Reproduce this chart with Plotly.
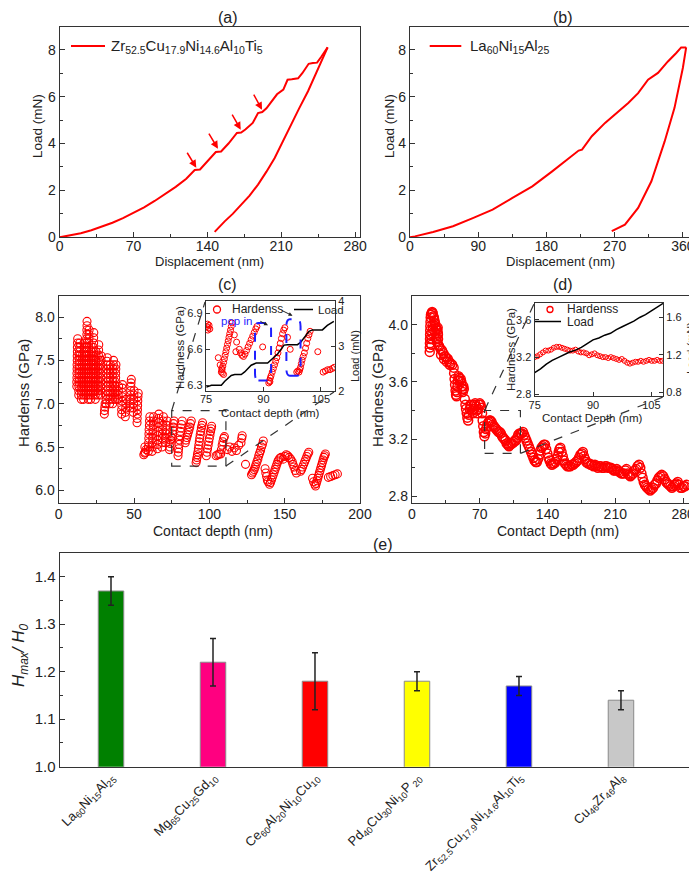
import plotly.graph_objects as go

# ---------------- data ----------------
# (a) Zr52.5Cu17.9Ni14.6Al10Ti5 load-displacement
a_load_disp = [0, 10, 20, 30, 40, 50, 60, 70, 80, 90, 100, 110, 120, 128, 133, 140, 148, 153, 160, 168, 172,
               176, 183, 188, 192, 196, 200, 206, 212, 216, 220, 226, 230, 236, 240, 244, 248, 252, 254]
a_load_val = [0, 0.07, 0.17, 0.30, 0.45, 0.62, 0.82, 1.05, 1.28, 1.55, 1.85, 2.15, 2.50, 2.87, 2.89, 3.25, 3.64,
              3.66, 4.00, 4.45, 4.47, 4.60, 4.88, 5.30, 5.34, 5.50, 5.75, 6.10, 6.30, 6.72, 6.74, 6.78, 7.00,
              7.40, 7.43, 7.45, 7.70, 8.00, 8.10]
a_unload_disp = [254, 245, 235.4, 227, 219.5, 211, 203.8, 196, 188, 180, 172.1, 164, 156.4, 150, 146.9]
a_unload_val = [8.10, 7.20, 6.23, 5.50, 4.80, 4.05, 3.38, 2.80, 2.25, 1.78, 1.39, 1.00, 0.68, 0.40, 0.23]
a_arrow_tail = [(120, 3.67), (140.6, 4.49), (162.7, 5.30), (183.2, 6.15)]
a_arrow_head = [(129.5, 2.97), (150, 3.78), (171.6, 4.59), (191.8, 5.44)]

# (b) La60Ni15Al25 load-displacement
b_load_disp = [0, 6.5, 30.5, 56.7, 82.9, 109, 135.2, 161.4, 187.6, 205.1, 222.5, 227, 239.9, 257.4, 274.9,
               288, 301, 314.1, 327.2, 340.3, 351.3, 357.8, 364.4]
b_load_val = [0, 0.04, 0.23, 0.47, 0.82, 1.18, 1.68, 2.17, 2.81, 3.24, 3.70, 3.74, 4.31, 4.88, 5.37, 5.73,
              6.15, 6.72, 7.01, 7.50, 7.86, 8.10, 8.10]
b_unload_disp = [364.4, 360, 349, 336, 318.5, 301, 283.6, 266.2]
b_unload_val = [8.10, 7.22, 5.52, 4.09, 2.39, 1.25, 0.54, 0.26]

# (c) hardness vs contact depth, Zr-based BMG (clusters of serrations)
c_col_depth = [
    [12.0, 12.0, 12.1, 12.1, 12.2, 12.2, 12.3, 12.3, 12.4, 12.4, 12.5, 12.6],
    [13.3, 13.3, 13.4, 13.4, 13.5, 13.5, 13.6, 13.6, 13.7, 13.7, 13.8, 13.9, 14.0],
    [15.0, 15.0, 15.1, 15.1, 15.2, 15.2, 15.3, 15.3, 15.4, 15.4, 15.5],
    [16.5, 16.5, 16.6, 16.6, 16.7, 16.7, 16.8, 16.8, 16.9, 16.9, 17.0, 17.0, 17.1, 17.2],
    [18.2, 18.2, 18.2, 18.3, 18.3, 18.3, 18.4, 18.4, 18.4, 18.5, 18.5, 18.5, 18.6, 18.6, 18.7, 18.7, 18.8, 18.8],
    [19.6, 19.6, 19.6, 19.7, 19.7, 19.7, 19.8, 19.8, 19.8, 19.9, 19.9, 19.9, 20.0, 20.0, 20.1, 20.1, 20.2],
    [21.2, 21.2, 21.3, 21.3, 21.4, 21.4, 21.5, 21.5, 21.6, 21.6, 21.7, 21.8],
    [22.7, 22.7, 22.8, 22.8, 22.8, 22.9, 22.9, 23.0, 23.0, 23.0, 23.1, 23.1, 23.2, 23.2, 23.3],
    [24.3, 24.3, 24.4, 24.4, 24.5, 24.5, 24.6, 24.6, 24.7, 24.7, 24.8, 24.8],
    [26.0, 26.0, 26.1, 26.1, 26.2, 26.2, 26.3, 26.3, 26.4, 26.4, 26.5, 26.6],
    [27.8, 27.8, 27.9, 27.9, 28.0, 28.0, 28.1, 28.1, 28.2, 28.3],
    [30.3, 30.4, 30.6, 30.8],
    [31.5, 31.5, 31.6, 31.6, 31.7, 31.7, 31.8, 31.8, 31.9, 32.0, 32.1, 32.3],
    [33.8, 33.8, 33.9, 33.9, 34.0, 34.0, 34.1, 34.2, 34.2, 34.3],
    [35.8, 35.8, 35.9, 35.9, 36.0, 36.0, 36.1, 36.1, 36.2, 36.3, 36.4],
    [37.5, 37.5, 37.6, 37.6, 37.7, 37.8, 37.8, 37.9, 38.0],
    [39.3, 39.5, 39.6, 39.8],
    [41.8, 41.8, 41.9, 42.0, 42.0, 42.1, 42.2, 42.3],
    [44.2, 44.3, 44.5, 44.6, 44.8],
    [47.5, 47.5, 47.6, 47.7, 47.8, 47.9, 48.0, 48.2],
    [49.5, 49.6, 49.7, 49.8, 49.9, 50.0],
    [52.0, 52.1, 52.2, 52.3, 52.4, 52.5, 52.6, 52.8],
    [56.5, 57.0, 57.5, 58.0, 57.2],
    [59.5, 59.6, 59.7, 59.8, 59.9, 60.0, 60.2, 60.3, 60.5],
    [62.0, 62.1, 62.2, 62.3, 62.4, 62.5, 62.7, 62.8, 63.0],
    [65.5, 65.6, 65.7, 65.8, 65.9, 66.0, 66.2, 66.3, 66.5],
    [68.5, 68.6, 68.7, 68.9, 69.0, 69.2, 69.3, 69.5],
    [71.0, 71.2, 71.4, 71.6, 71.8, 72.0],
    [73.5, 73.8, 74.0, 74.3, 74.5],
    [75.5, 75.6, 75.8, 76.0, 76.2, 76.5],
    [79.2, 79.4, 79.6, 79.9, 80.2, 80.5, 80.8, 81.1, 81.5, 82.0],
    [84.0, 84.5, 85.0, 85.5, 86.0, 86.5, 87.0, 87.5, 88.0],
    [91.2, 91.5, 91.8, 92.1, 92.4, 92.7, 93.0, 93.3, 93.6, 93.9, 94.3, 94.7, 95.1, 95.5],
    [98.0, 98.4, 98.8, 99.2, 99.6, 100.0, 100.4, 100.8, 101.2, 101.5],
    [104.5, 105.5, 106.5, 107.5, 108.0, 108.5, 109.0, 109.5, 110.0],
    [112, 113.5, 115, 116.5, 118, 119.5, 121, 121.5, 121.8],
    [124],
    [128.0, 128.6, 129.2, 129.8, 130.4, 131.0, 131.6, 132.2, 132.8, 133.4, 134.0, 134.6, 135.2, 135.8],
    [137.0, 137.5, 138.0, 138.5, 139.0],
    [140.0, 140.6, 141.2, 141.8, 142.4, 143.0, 143.6, 144.2, 144.8, 145.4, 146.0, 146.8, 147.6],
    [149, 150, 151, 152, 153, 154, 155],
    [155.5, 156.2, 157.0, 157.8],
    [160.5, 161.2, 161.9, 162.6, 163.3, 164.0, 164.7, 165.4, 166.0],
    [168.5, 169.2, 170.0],
    [170.5, 171.0, 171.5, 172.0, 172.5, 173.0, 173.5, 174.0, 174.5, 175.0, 175.5, 176.0, 176.5, 177.0],
    [179, 180.5, 182, 183.5, 185],
]
c_col_hard = [
    [7.20, 7.25, 7.30, 7.35, 7.40, 7.45, 7.50, 7.55, 7.60, 7.65, 7.70, 7.75],
    [7.10, 7.15, 7.20, 7.25, 7.30, 7.35, 7.40, 7.45, 7.50, 7.55, 7.60, 7.65, 7.70],
    [7.05, 7.10, 7.15, 7.20, 7.25, 7.30, 7.35, 7.40, 7.45, 7.50, 7.55],
    [7.05, 7.10, 7.15, 7.20, 7.25, 7.30, 7.35, 7.40, 7.45, 7.50, 7.55, 7.60, 7.65, 7.70],
    [7.10, 7.15, 7.20, 7.25, 7.30, 7.35, 7.40, 7.45, 7.50, 7.55, 7.60, 7.65, 7.70, 7.75, 7.80, 7.85, 7.90, 7.95],
    [7.05, 7.10, 7.15, 7.20, 7.25, 7.30, 7.35, 7.40, 7.45, 7.50, 7.55, 7.60, 7.65, 7.70, 7.75, 7.80, 7.85],
    [7.05, 7.10, 7.15, 7.20, 7.25, 7.30, 7.35, 7.40, 7.45, 7.50, 7.55, 7.60],
    [7.10, 7.15, 7.20, 7.25, 7.30, 7.35, 7.40, 7.45, 7.50, 7.55, 7.60, 7.65, 7.70, 7.76, 7.82],
    [7.05, 7.10, 7.15, 7.20, 7.25, 7.30, 7.35, 7.40, 7.45, 7.50, 7.55, 7.60],
    [7.10, 7.15, 7.20, 7.25, 7.30, 7.35, 7.40, 7.45, 7.50, 7.56, 7.62, 7.68],
    [7.10, 7.15, 7.20, 7.25, 7.30, 7.35, 7.40, 7.45, 7.50, 7.55],
    [6.88, 6.92, 6.96, 7.00],
    [7.00, 7.05, 7.10, 7.15, 7.20, 7.25, 7.30, 7.35, 7.40, 7.45, 7.49, 7.53],
    [7.00, 7.05, 7.10, 7.15, 7.20, 7.25, 7.30, 7.35, 7.40, 7.45],
    [7.00, 7.05, 7.10, 7.15, 7.20, 7.25, 7.30, 7.35, 7.40, 7.45, 7.50],
    [7.05, 7.10, 7.15, 7.20, 7.25, 7.30, 7.35, 7.40, 7.45],
    [7.05, 7.10, 7.15, 7.20],
    [6.88, 6.93, 6.98, 7.03, 7.08, 7.13, 7.18, 7.22],
    [6.85, 6.90, 6.95, 7.00, 7.05],
    [6.95, 7.00, 7.05, 7.10, 7.15, 7.20, 7.24, 7.28],
    [6.90, 6.95, 7.00, 7.05, 7.10, 7.15],
    [6.78, 6.83, 6.88, 6.93, 6.98, 7.03, 7.08, 7.12],
    [6.41, 6.43, 6.44, 6.47, 6.50],
    [6.45, 6.50, 6.55, 6.60, 6.65, 6.70, 6.75, 6.80, 6.85],
    [6.45, 6.50, 6.55, 6.60, 6.65, 6.70, 6.75, 6.80, 6.85],
    [6.48, 6.53, 6.58, 6.63, 6.68, 6.73, 6.78, 6.83, 6.88],
    [6.50, 6.55, 6.60, 6.65, 6.70, 6.75, 6.80, 6.85],
    [6.55, 6.60, 6.65, 6.70, 6.75, 6.80],
    [6.47, 6.50, 6.54, 6.58, 6.62],
    [6.60, 6.65, 6.69, 6.73, 6.77, 6.80],
    [6.40, 6.44, 6.48, 6.53, 6.58, 6.63, 6.68, 6.72, 6.76, 6.80],
    [6.55, 6.58, 6.61, 6.64, 6.67, 6.70, 6.73, 6.77, 6.80],
    [6.32, 6.35, 6.38, 6.41, 6.44, 6.48, 6.52, 6.56, 6.60, 6.64, 6.68, 6.72, 6.75, 6.78],
    [6.40, 6.44, 6.48, 6.52, 6.56, 6.60, 6.64, 6.68, 6.71, 6.74],
    [6.40, 6.41, 6.42, 6.42, 6.47, 6.52, 6.56, 6.60, 6.62],
    [6.47, 6.50, 6.45, 6.49, 6.46, 6.52, 6.55, 6.60, 6.63],
    [6.30],
    [6.18, 6.20, 6.22, 6.24, 6.27, 6.30, 6.33, 6.36, 6.40, 6.43, 6.46, 6.50, 6.53, 6.57],
    [6.25, 6.20, 6.16, 6.12, 6.10],
    [6.07, 6.09, 6.12, 6.15, 6.18, 6.21, 6.24, 6.27, 6.30, 6.33, 6.35, 6.37, 6.38],
    [6.36, 6.39, 6.41, 6.40, 6.38, 6.36, 6.33],
    [6.30, 6.27, 6.23, 6.20],
    [6.22, 6.24, 6.27, 6.30, 6.33, 6.36, 6.39, 6.42, 6.44],
    [6.14, 6.10, 6.07],
    [6.05, 6.08, 6.11, 6.14, 6.17, 6.20, 6.23, 6.26, 6.29, 6.32, 6.35, 6.38, 6.40, 6.42],
    [6.15, 6.16, 6.17, 6.18, 6.19],
]

# (c) inset
ci_depth = [75.2, 75.4, 75.6, 75.8, 76.0, 75.5, 78.2, 78.7,
            79.0, 79.2, 79.4, 79.6, 79.8, 80.0, 80.2, 80.4, 80.6, 80.8, 81.0, 81.2, 81.4, 81.6, 81.8,
            79.3, 79.6, 79.1, 82.4, 83.0, 82.8,
            83.7, 84.0, 84.4, 84.8, 85.2, 85.6, 86.0, 86.4, 86.8, 87.2, 87.6, 88.0, 88.3, 89.8,
            91.4, 91.6, 91.8, 92.0, 92.3, 92.6, 92.9, 93.2, 93.5, 93.8, 94.1, 94.4, 94.7, 95.0, 95.3, 95.6, 91.7,
            96.3, 97.0,
            99.3, 99.5, 99.7, 99.9, 100.1, 100.4, 100.7, 101.0, 101.3, 101.6, 101.9, 102.2, 99.0, 98.7,
            104.2, 105.6, 106.2, 106.8, 107.4, 108.0, 108.5]
ci_hard = [6.79, 6.81, 6.78, 6.80, 6.77, 6.76, 6.53, 6.47,
           6.41, 6.43, 6.46, 6.49, 6.52, 6.55, 6.58, 6.61, 6.64, 6.67, 6.70, 6.73, 6.76, 6.79, 6.82,
           6.40, 6.39, 6.44, 6.72, 6.66, 6.58,
           6.60, 6.57, 6.55, 6.54, 6.56, 6.59, 6.62, 6.65, 6.68, 6.71, 6.74, 6.77, 6.79, 6.62,
           6.32, 6.34, 6.36, 6.38, 6.41, 6.44, 6.47, 6.50, 6.53, 6.57, 6.61, 6.65, 6.69, 6.73, 6.76, 6.78, 6.33,
           6.70, 6.60,
           6.41, 6.43, 6.45, 6.48, 6.51, 6.54, 6.57, 6.61, 6.65, 6.69, 6.72, 6.75, 6.42, 6.41,
           6.58, 6.41, 6.42, 6.43, 6.43, 6.44, 6.45]
ci_load_depth = [75.1, 76.4, 79.0, 79.9, 81.6, 82.5, 84.2, 85.1, 86.8, 88.1, 91.1, 92.4, 93.7, 95.4, 96.3,
                 98.9, 99.8, 101.9, 102.8, 105.4, 106.7, 108.4]
ci_load = [2.08, 2.12, 2.12, 2.21, 2.34, 2.36, 2.36, 2.42, 2.57, 2.62, 2.62, 2.73, 2.82, 3.02, 3.03,
           3.03, 3.09, 3.33, 3.36, 3.36, 3.46, 3.55]

# (d) hardness vs contact depth, La-based BMG
d_depth = [18.3, 18.4, 18.5, 18.6, 18.7, 18.8, 18.9, 19.1, 19.3,
           19.6, 20.2, 20.8, 21.4, 22.0, 22.6, 23.2, 23.8, 24.4, 25.0, 25.6, 26.2, 26.8,
           20.0, 20.5, 21.0, 21.5, 22.0, 24.0, 25.0, 26.0, 26.5, 26.7, 26.9, 27.1,
           28.0, 29.5, 31.0, 32.5, 34.0, 35.5, 37.0, 38.5, 40.0, 41.5, 43.0, 30.0, 33.0, 36.0, 39.0,
           43.5, 44.0, 44.5, 45.0, 45.5, 46.0, 46.5, 47.0, 47.5, 48.0, 48.8, 49.5, 50.3, 51.0, 51.5, 52.0,
           52.5, 53.0, 53.5,
           54.5, 55.2, 55.8, 56.5, 57.2, 58.0,
           58.8, 59.6, 60.4, 61.2, 62.0, 62.8, 63.6, 64.4, 65.2, 66.0, 66.8, 67.6, 68.4, 69.2, 70.0, 70.8, 71.6,
           72.4, 73.0, 73.6, 74.2, 74.8,
           75.6, 76.5, 77.4, 78.3, 79.2, 80.1, 81.0,
           82.2, 83.4, 84.6, 85.8, 87.0, 88.2, 89.4, 90.6, 91.8, 93.0, 94.2, 95.4, 96.6, 97.8, 99.0, 100.2,
           101.4,
           102.6, 103.8, 105.0, 106.2, 107.4, 108.6, 109.8, 111.0, 112.2, 113.4, 114.6, 115.8,
           117.0, 118.2, 119.4, 120.6, 121.8, 123.0, 124.2, 125.4, 126.6, 127.8, 129.0,
           130.2, 131.4, 132.6, 133.8, 135.0, 136.2, 137.4,
           138.6, 139.8, 141.0, 142.2, 143.4, 144.6, 145.8, 147.0, 148.2,
           149.4, 150.6, 151.5, 152.4, 153.3,
           154.5, 155.7, 156.9, 158.1, 159.3, 160.5, 162.0, 163.5, 165.0, 166.5, 168.0,
           169.5, 171.0, 172.5, 174.0, 175.5, 176.5,
           177.6, 178.8, 180.0, 181.5, 183.0, 184.5, 186.0, 187.5, 189.0, 190.5, 192.0, 193.5, 195.0, 196.5,
           198.0, 199.5, 201.0, 202.5, 204.0, 205.5, 207.0, 208.5, 210.0, 211.5, 213.0, 214.5, 216.0, 217.5,
           219.0, 220.5, 221.5, 222.8, 224.0, 225.5, 227.0, 228.5, 230.0, 231.5, 233.0, 234.5, 235.8, 237.0,
           238.2, 239.4, 240.6, 241.8, 243.0, 244.5, 246.0, 247.5, 249.0, 250.5, 252.0, 253.5, 255.0, 256.5,
           258.0, 259.5, 261.0, 262.5, 264.0, 265.5, 267.0, 268.5, 270.0, 271.5, 273.0, 274.5, 276.0, 277.5,
           279.0, 280.5, 282.0, 283.5]
d_hard = [3.81, 3.84, 3.87, 3.90, 3.93, 3.96, 3.99, 4.02, 4.05,
          4.07, 4.08, 4.09, 4.08, 4.06, 4.05, 4.03, 4.01, 3.99, 3.97, 3.97, 3.96, 3.93,
          3.86, 3.90, 3.94, 3.97, 4.00, 3.94, 3.90, 3.88, 3.98, 3.94, 3.90, 3.86,
          3.85, 3.83, 3.82, 3.80, 3.78, 3.77, 3.76, 3.74, 3.73, 3.72, 3.70, 3.79, 3.76, 3.74, 3.72,
          3.66, 3.62, 3.58, 3.54, 3.51, 3.50, 3.53, 3.57, 3.61, 3.64, 3.63, 3.61, 3.62, 3.60, 3.57, 3.55,
          3.53, 3.57, 3.55,
          3.48, 3.44, 3.41, 3.38, 3.35, 3.33,
          3.37, 3.41, 3.44, 3.43, 3.40, 3.38, 3.41, 3.44, 3.45, 3.43, 3.40, 3.38, 3.41, 3.44, 3.45, 3.44, 3.42,
          3.38, 3.33, 3.29, 3.25, 3.22,
          3.24, 3.27, 3.29, 3.31, 3.32, 3.33, 3.33,
          3.32, 3.30, 3.29, 3.28, 3.27, 3.26, 3.25, 3.25, 3.24, 3.22, 3.21, 3.20, 3.19, 3.17, 3.16, 3.15,
          3.16,
          3.17, 3.17, 3.18, 3.19, 3.19, 3.21, 3.23, 3.24, 3.24, 3.24, 3.25, 3.23,
          3.21, 3.19, 3.17, 3.15, 3.13, 3.11, 3.09, 3.07, 3.05, 3.04, 3.04,
          3.06, 3.09, 3.12, 3.14, 3.15, 3.16, 3.16,
          3.13, 3.10, 3.07, 3.05, 3.03, 3.02, 3.03, 3.03, 3.04,
          3.06, 3.08, 3.11, 3.13, 3.14,
          3.11, 3.08, 3.05, 3.03, 3.02, 3.01, 3.01, 3.01, 3.02, 3.02, 3.03,
          3.04, 3.05, 3.07, 3.09, 3.10, 3.11,
          3.08, 3.06, 3.04, 3.03, 3.03, 3.02, 3.02, 3.01, 3.02, 3.01, 3.00, 3.01, 3.01, 3.00,
          3.00, 3.01, 3.01, 3.00, 3.00, 3.00, 2.99, 2.98, 2.98, 2.99, 2.98, 2.97, 2.96, 2.96,
          2.96, 2.98, 2.99, 2.96, 2.95, 2.94, 2.95, 2.96, 2.98, 2.99, 3.01, 3.02, 3.00, 2.96,
          2.93, 2.90, 2.88, 2.87, 2.86, 2.85, 2.84, 2.85, 2.86, 2.88, 2.89, 2.91, 2.93, 2.94,
          2.95, 2.94, 2.92, 2.90, 2.89, 2.88, 2.87, 2.86, 2.87, 2.88, 2.89, 2.90, 2.88, 2.86,
          2.86, 2.87, 2.87, 2.88]

# (d) inset
di_depth = [75.0, 75.7, 76.4, 77.1, 77.8, 78.5, 79.2, 79.9, 80.6, 81.3, 82.0, 82.7, 83.4, 84.1, 84.8, 85.5,
            86.2, 86.9, 87.6, 88.3, 89.0, 89.7, 90.4, 91.1, 91.8, 92.5, 93.2, 93.9, 94.6, 95.3, 96.0, 96.7,
            97.4, 98.1, 98.8, 99.5, 100.2, 100.9, 101.6, 102.3, 103.0, 103.7, 104.4, 105.1, 105.8, 106.5,
            107.2, 107.9]
di_hard = [3.20, 3.21, 3.23, 3.25, 3.27, 3.27, 3.28, 3.30, 3.31, 3.31, 3.30, 3.29, 3.28, 3.27, 3.27, 3.28,
           3.26, 3.25, 3.25, 3.24, 3.22, 3.23, 3.24, 3.22, 3.21, 3.20, 3.20, 3.19, 3.20, 3.19, 3.18, 3.17,
           3.18, 3.16, 3.14, 3.13, 3.14, 3.15, 3.15, 3.16, 3.15, 3.16, 3.17, 3.16, 3.16, 3.17, 3.16, 3.16]
di_load_depth = [75, 76.5, 78, 79.5, 81, 82.5, 84, 85.5, 87, 88.5, 90, 91.5, 93, 94.5, 96, 97.5, 99, 100.5,
                 102, 103.5, 105, 106.5, 108]
di_load = [1.01, 1.05, 1.10, 1.14, 1.17, 1.20, 1.23, 1.25, 1.28, 1.32, 1.36, 1.38, 1.41, 1.43, 1.47, 1.50,
           1.53, 1.56, 1.60, 1.63, 1.67, 1.71, 1.75]

# (e) Hmax/H0 bar chart
e_alloys = ["La<sub>60</sub>Ni<sub>15</sub>Al<sub>25</sub>",
            "Mg<sub>65</sub>Cu<sub>25</sub>Gd<sub>10</sub>",
            "Ce<sub>60</sub>Al<sub>20</sub>Ni<sub>10</sub>Cu<sub>10</sub>",
            "Pd<sub>40</sub>Cu<sub>30</sub>Ni<sub>10</sub>P<sub> 20</sub>",
            "Zr<sub>52.5</sub>Cu<sub>17.9</sub>Ni<sub>14.6</sub>Al<sub>10</sub>Ti<sub>5</sub>",
            "Cu<sub>46</sub>Zr<sub>46</sub>Al<sub>8</sub>"]
e_ratio = [1.37, 1.22, 1.18, 1.18, 1.17, 1.14]
e_err = [0.03, 0.05, 0.06, 0.02, 0.02, 0.02]
e_colors = ["#008000", "#ff0080", "#ff0000", "#ffff00", "#0000ff", "#c8c8c8"]

# ---------------- layout helpers ----------------
W, H = 697, 872
FONT = "Arial, 'Liberation Sans', sans-serif"
INK = "#222222"
RED = "#ff0000"


def xd(a, b):
    return [a / W, b / W]


def yd(top, bot):
    return [1 - bot / H, 1 - top / H]


def PX(x):
    return x / W


def PY(y):
    return 1 - y / H


def axis(domain, rng, anchor, dtick=None, minor=None, size=14, **kw):
    d = dict(domain=domain, range=rng, anchor=anchor, showline=True, linecolor="#333", linewidth=1.3,
             mirror=True, ticks="inside", ticklen=5, tickwidth=1.2, tickcolor="#333", showgrid=False,
             zeroline=False, automargin=False, tickfont=dict(size=size, color=INK, family=FONT))
    if dtick is not None:
        d["dtick"] = dtick
        d["tick0"] = 0
    if minor is not None:
        d["minor"] = dict(ticks="inside", ticklen=3, tickwidth=1, tickcolor="#333", dtick=minor, showgrid=False)
    d.update(kw)
    return d


fig = go.Figure()

# (a)
fig.add_trace(go.Scatter(x=a_load_disp, y=a_load_val, mode="lines", line=dict(color=RED, width=2),
                         xaxis="x", yaxis="y", showlegend=False))
fig.add_trace(go.Scatter(x=a_unload_disp, y=a_unload_val, mode="lines", line=dict(color=RED, width=2),
                         xaxis="x", yaxis="y", showlegend=False))
# (b)
fig.add_trace(go.Scatter(x=b_load_disp, y=b_load_val, mode="lines", line=dict(color=RED, width=2),
                         xaxis="x2", yaxis="y2", showlegend=False))
fig.add_trace(go.Scatter(x=b_unload_disp, y=b_unload_val, mode="lines", line=dict(color=RED, width=2),
                         xaxis="x2", yaxis="y2", showlegend=False))
# (c)
c_depth = [v for col in c_col_depth for v in col]
c_hard = [v for col in c_col_hard for v in col]
fig.add_trace(go.Scatter(x=c_depth, y=c_hard, mode="markers",
                         marker=dict(symbol="circle-open", size=8, color=RED, line=dict(width=1.1, color=RED)),
                         xaxis="x3", yaxis="y3", showlegend=False))
# (d)
fig.add_trace(go.Scatter(x=d_depth, y=d_hard, mode="markers",
                         marker=dict(symbol="circle-open", size=9, color=RED, line=dict(width=1.5, color=RED)),
                         xaxis="x4", yaxis="y4", showlegend=False))
# (e)
fig.add_trace(go.Bar(x=list(range(len(e_ratio))), y=e_ratio, width=0.25,
                     marker=dict(color=e_colors, line=dict(color="#8a8a8a", width=1)),
                     error_y=dict(type="data", array=e_err, color="#222", thickness=1.5, width=3),
                     xaxis="x5", yaxis="y5", showlegend=False))
# (c) inset
fig.add_trace(go.Scatter(x=ci_depth, y=ci_hard, mode="markers",
                         marker=dict(symbol="circle-open", size=6, color=RED, line=dict(width=1, color=RED)),
                         xaxis="x6", yaxis="y6", showlegend=False))
fig.add_trace(go.Scatter(x=ci_load_depth, y=ci_load, mode="lines", line=dict(color="black", width=1.5),
                         xaxis="x6", yaxis="y7", showlegend=False))
# (d) inset
fig.add_trace(go.Scatter(x=di_depth, y=di_hard, mode="markers",
                         marker=dict(symbol="circle-open", size=5, color=RED, line=dict(width=1, color=RED)),
                         xaxis="x7", yaxis="y8", showlegend=False))
fig.add_trace(go.Scatter(x=di_load_depth, y=di_load, mode="lines", line=dict(color="black", width=1.5),
                         xaxis="x7", yaxis="y9", showlegend=False))

layout = dict(
    width=W, height=H, margin=dict(l=0, r=0, t=0, b=0), paper_bgcolor="white", plot_bgcolor="white",
    font=dict(family=FONT, color=INK), showlegend=False,
    xaxis=axis(xd(51.7, 351.7), [0, 284.4], "y", dtick=70, minor=35, ticklabelstandoff=-4),
    yaxis=axis(yd(19, 229.3), [0, 8.97], "x", dtick=2, minor=1),
    xaxis2=axis(xd(402, 690), [0, 380], "y2", dtick=90, minor=45, ticklabelstandoff=-4),
    yaxis2=axis(yd(19, 229.3), [0, 8.97], "x2", dtick=2, minor=1),
    xaxis3=axis(xd(50.7, 352), [0, 200], "y3", dtick=50, minor=25, ticklabelstandoff=-2),
    yaxis3=axis(yd(287.7, 495), [5.854, 8.246], "x3", dtick=0.5, minor=0.25, tickformat=".1f"),
    xaxis4=axis(xd(404, 692), [0, 297.5], "y4", dtick=70, minor=35, ticklabelstandoff=-2),
    yaxis4=axis(yd(288.3, 495), [2.753, 4.199], "x4", dtick=0.4, minor=0.2, tickformat=".1f", tick0=2.8),
    xaxis5=axis(xd(51.7, 691), [-0.503, 5.765], "y5", ticks="", tickvals=list(range(len(e_alloys))),
                ticktext=e_alloys, tickangle=-45, size=13, ticklabelstandoff=-3),
    yaxis5=axis(yd(545, 758.7), [1.0, 1.45], "x5", dtick=0.1, minor=0.05, tickformat=".1f", size=15),
    xaxis6=axis(xd(198, 327), [75, 108.7], "y6", dtick=15, size=11, ticklen=4, tick0=75,
                ticklabelstandoff=-2),
    yaxis6=axis(yd(293.3, 382.7), [6.255, 7.0], "x6", dtick=0.3, size=11, ticklen=4, tick0=6.3,
                tickformat=".1f", mirror=False),
    yaxis7=axis(yd(293.3, 382.7), [2, 4], "x6", dtick=1, size=11, ticklen=4, overlaying="y6", side="right",
                mirror=False),
    xaxis7=axis(xd(526.7, 655), [75, 108], "y8", dtick=15, size=11, ticklen=4, tick0=75,
                ticklabelstandoff=-2),
    yaxis8=axis(yd(295, 388.3), [2.78, 3.78], "x7", dtick=0.4, size=11, ticklen=4, tick0=2.8,
                tickformat=".1f", mirror=False),
    yaxis9=axis(yd(295, 388.3), [0.755, 1.755], "x7", dtick=0.4, size=11, ticklen=4, tick0=0.8,
                tickformat=".1f", overlaying="y8", side="right", mirror=False),
)
fig.update_layout(**layout)

ann = []


def text(x, y, s, size=14, angle=0, color=INK, xanchor="center", yanchor="middle"):
    ann.append(dict(x=PX(x), y=PY(y), xref="paper", yref="paper", text=s, showarrow=False, textangle=angle,
                    font=dict(size=size, color=color, family=FONT), xanchor=xanchor, yanchor=yanchor))


# panel labels
text(220, 10, "(a)", 16)
text(555, 10, "(b)", 16)
text(220, 276, "(c)", 16)
text(555, 276, "(d)", 16)
text(375, 536, "(e)", 16)
# axis titles
text(201.7, 254, "Displacement (nm)", 13)
text(29, 118, "Load (mN)", 13.5, angle=-90)
text(552, 254, "Displacement (nm)", 13)
text(381, 118, "Load (mN)", 13.5, angle=-90)
text(205, 523, "Contact depth (nm)", 14)
text(15, 385, "Hardenss (GPa)", 15, angle=-90)
text(550, 523, "Contact Depth (nm)", 14)
text(369, 385, "Hardness (GPa)", 15, angle=-90)
text(12, 648, "<i>H</i><sub><i>max</i></sub><i>/ H</i><sub><i>0</i></sub>", 17, angle=-90)
# inset titles
text(262, 405, "Contact depth (nm)", 11.5)
text(172, 340, "Hardness (GPa)", 11.5, angle=-90)
text(347, 348, "Load (mN)", 11, angle=-90)
text(584, 410, "Contact Depth (nm)", 11.5)
text(503, 342, "Hardness (GPa)", 11.5, angle=-90)
text(683, 340, "Load (mN)", 11, angle=-90)
# legends (text parts)
text(101, 38, "Zr<sub>52.5</sub>Cu<sub>17.9</sub>Ni<sub>14.6</sub>Al<sub>10</sub>Ti<sub>5</sub>", 15,
     xanchor="left")
text(460, 38, "La<sub>60</sub>Ni<sub>15</sub>Al<sub>25</sub>", 15, xanchor="left")
text(222, 301, "Hardenss", 12, xanchor="left")
text(308, 302, "Load", 11.5, xanchor="left")
text(557, 301, "Hardenss", 12, xanchor="left")
text(557, 313.5, "Load", 12, xanchor="left")

# arrows in (a)
for (tx, ty), (hx, hy) in zip(a_arrow_tail, a_arrow_head):
    ann.append(dict(x=hx, y=hy, ax=tx, ay=ty, xref="x", yref="y", axref="x", ayref="y", text="",
                    showarrow=True, arrowhead=2, arrowsize=1, arrowwidth=1.5, arrowcolor=RED))
# pop in
ann.append(dict(x=83.0, y=6.835, xref="x6", yref="y6", text="pop in", showarrow=False,
                font=dict(size=11.5, color="#1f1fff", family=FONT)))
for (tx, ty, hx, hy) in [(88.8, 6.84, 91.2, 6.80), (94.4, 6.93, 97.6, 6.88)]:
    ann.append(dict(x=hx, y=hy, ax=tx, ay=ty, xref="x6", yref="y6", axref="x6", ayref="y6", text="",
                    showarrow=True, arrowhead=2, arrowsize=0.8, arrowwidth=1, arrowcolor="#222"))

shapes = []
dash = dict(color="#333", width=1.2, dash="dash")
# zoom boxes and connectors
shapes.append(dict(type="rect", xref="x3", yref="y3", x0=75, x1=111, y0=6.28, y1=6.92, line=dash))
shapes.append(dict(type="line", xref="paper", yref="paper", x0=PX(163.7), y0=PY(402.6), x1=PX(197), y1=PY(294),
                   line=dash))
shapes.append(dict(type="line", xref="paper", yref="paper", x0=PX(217.9), y0=PY(458.1), x1=PX(326), y1=PY(384),
                   line=dash))
shapes.append(dict(type="rect", xref="x4", yref="y4", x0=75, x1=112, y0=3.1, y1=3.4, line=dash))
shapes.append(dict(type="line", xref="paper", yref="paper", x0=PX(476.6), y0=PY(402.5), x1=PX(526), y1=PY(296),
                   line=dash))
shapes.append(dict(type="line", xref="paper", yref="paper", x0=PX(512.4), y0=PY(445.4), x1=PX(655), y1=PY(389),
                   line=dash))


def rrect(x0, x1, y0, y1, rx, ry):
    return (f"M {x0+rx},{y0} L {x1-rx},{y0} Q {x1},{y0} {x1},{y0+ry} L {x1},{y1-ry} Q {x1},{y1} {x1-rx},{y1} "
            f"L {x0+rx},{y1} Q {x0},{y1} {x0},{y1-ry} L {x0},{y0+ry} Q {x0},{y0} {x0+rx},{y0} Z")


for (x0, x1, y0, y1) in [(87.8, 92.0, 6.34, 6.82), (96.0, 99.7, 6.38, 6.85)]:
    shapes.append(dict(type="path", xref="x6", yref="y6", path=rrect(x0, x1, y0, y1, 0.9, 0.06),
                       line=dict(color="#1f1fff", width=2, dash="dash")))

# legend samples
shapes.append(dict(type="line", xref="paper", yref="paper", x0=PX(63), x1=PX(97), y0=PY(38), y1=PY(38),
                   line=dict(color=RED, width=2)))
shapes.append(dict(type="line", xref="paper", yref="paper", x0=PX(421.7), x1=PX(453.3), y0=PY(38), y1=PY(38),
                   line=dict(color=RED, width=2)))
shapes.append(dict(type="circle", xref="paper", yref="paper", x0=PX(205.5), x1=PX(212.5), y0=PY(305),
                   y1=PY(298), line=dict(color=RED, width=1.3)))
shapes.append(dict(type="line", xref="paper", yref="paper", x0=PX(286), x1=PX(305), y0=PY(301.5),
                   y1=PY(301.5), line=dict(color="black", width=1.5)))
shapes.append(dict(type="circle", xref="paper", yref="paper", x0=PX(539), x1=PX(545), y0=PY(304.5),
                   y1=PY(298.5), line=dict(color=RED, width=1.3)))
shapes.append(dict(type="line", xref="paper", yref="paper", x0=PX(527), x1=PX(553), y0=PY(313.5),
                   y1=PY(313.5), line=dict(color="black", width=1.5)))

fig.update_layout(annotations=ann, shapes=shapes)
fig.write_html("out.html")
